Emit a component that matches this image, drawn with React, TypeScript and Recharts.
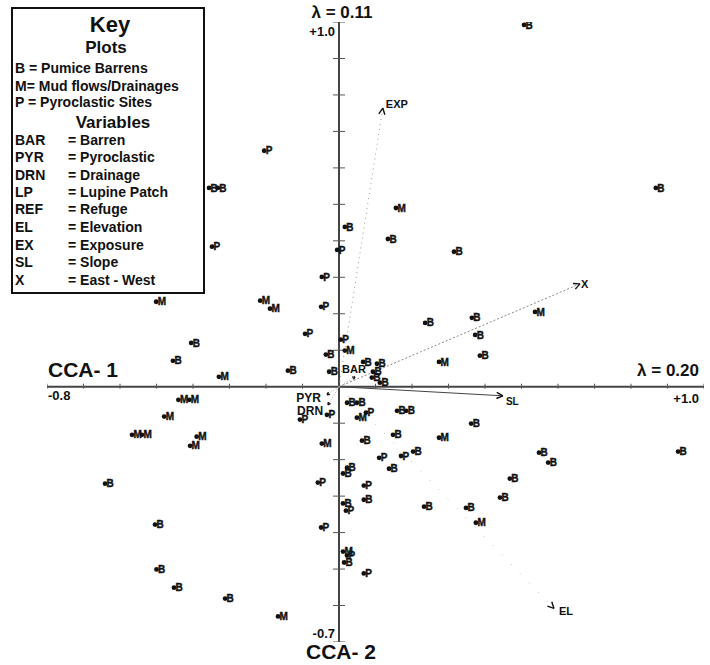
import { ScatterChart, Scatter, XAxis, YAxis, ReferenceLine, ReferenceDot } from 'recharts';

// plot scores (CCA-1, CCA-2)
const barrenX = [0.507, 0.868, -0.356, -0.332, 0.016, 0.134, 0.315, 0.236, 0.364, 0.373, 0.386, -0.036, -0.14, -0.027, 0.066, 0.104, 0.093, 0.09, 0.112, -0.405, -0.455, -0.641, -0.504, -0.5, -0.452, -0.312, 0.022, 0.049, 0.159, 0.184, 0.362, 0.148, 0.063, 0.203, 0.137, 0.022, 0.011, 0.068, 0.011, 0.233, 0.348, 0.014, 0.548, 0.573, 0.929, 0.468, 0.441];
const barrenY = [0.992, 0.545, 0.545, 0.545, 0.438, 0.405, 0.37, 0.175, 0.189, 0.142, 0.085, 0.088, 0.044, 0.041, 0.068, 0.063, 0.041, 0.025, 0.011, 0.12, 0.071, -0.266, -0.378, -0.501, -0.551, -0.581, -0.044, -0.044, -0.066, -0.066, -0.101, -0.132, -0.148, -0.178, -0.225, -0.222, -0.238, -0.31, -0.32, -0.329, -0.332, -0.482, -0.181, -0.208, -0.178, -0.252, -0.304];

const mudX = [0.156, -0.216, -0.189, -0.501, 0.016, 0.274, 0.537, -0.329, -0.44, -0.41, -0.479, -0.567, -0.54, -0.39, -0.408, 0.049, 0.274, -0.047, 0.375, 0.011, -0.167];
const mudY = [0.49, 0.236, 0.214, 0.233, 0.099, 0.068, 0.205, 0.027, -0.036, -0.036, -0.082, -0.132, -0.132, -0.137, -0.162, -0.085, -0.14, -0.156, -0.373, -0.452, -0.63];

const pyroX = [-0.205, -0.348, -0.005, -0.047, -0.049, -0.093, 0.005, -0.033, -0.107, 0.074, 0.11, 0.17, -0.058, 0.068, 0.019, -0.049, 0.022, 0.068];
const pyroY = [0.647, 0.384, 0.375, 0.301, 0.219, 0.145, 0.129, -0.077, -0.09, -0.071, -0.195, -0.19, -0.263, -0.271, -0.34, -0.386, -0.463, -0.512];

// environmental variable arrows
const varNames = ['EXP', 'X', 'SL', 'EL', 'BAR', 'PYR', 'DRN'];
const varX = [0.12, 0.66, 0.449, 0.589, 0.044, -0.033, -0.03];
const varY = [0.764, 0.282, -0.025, -0.608, 0.027, -0.022, -0.05];

const xTicks = [-0.8, -0.7, -0.6, -0.5, -0.4, -0.3, -0.2, -0.1, 0.1, 0.2, 0.3, 0.4, 0.5, 0.6, 0.7, 0.8, 0.9, 1.0];
const yTicks = [-0.7, -0.6, -0.5, -0.4, -0.3, -0.2, -0.1, 0.1, 0.2, 0.3, 0.4, 0.5, 0.6, 0.7, 0.8, 0.9, 1.0];

const FONT = '"Liberation Sans", Arial, sans-serif';
const INK = '#111';

const zip = (xs: number[], ys: number[]) => xs.map((x, i) => ({ x, y: ys[i] }));
const barrens = zip(barrenX, barrenY);
const mudflows = zip(mudX, mudY);
const pyroclastic = zip(pyroX, pyroY);
const vectors = varNames.map((name, i) => ({ name, x: varX[i], y: varY[i] }));
const xTickMarks = xTicks.map(v => ({ x: v, y: 0 }));
const yTickMarks = yTicks.map(v => ({ x: 0, y: v }));

// label placement / line look per variable
const vecStyle: Record<string, { dx: number; dy: number; anchor: string; size: number; head: number; dash: string; color: string; width: number }> = {
  EXP: { dx: 3, dy: 0, anchor: 'start', size: 11, head: 7, dash: '1 4', color: '#999', width: 1 },
  X: { dx: 1, dy: 4, anchor: 'start', size: 11, head: 7, dash: '2 2', color: '#888', width: 1 },
  SL: { dx: 3, dy: 9, anchor: 'start', size: 10, head: 7, dash: '', color: '#444', width: 1 },
  EL: { dx: 5, dy: 7, anchor: 'start', size: 11, head: 7, dash: '1 12', color: '#bbb', width: 1 },
  BAR: { dx: -13, dy: -4, anchor: 'start', size: 11, head: 3, dash: '1 2', color: '#aaa', width: 1 },
  PYR: { dx: -6, dy: 7, anchor: 'end', size: 12, head: 3, dash: '1 2', color: '#aaa', width: 1 },
  DRN: { dx: -5, dy: 10, anchor: 'end', size: 12, head: 3, dash: '1 2', color: '#aaa', width: 1 },
};

const plotSymbol = (letter: string) => (props: any) => {
  const { cx, cy } = props;
  if (cx == null || cy == null) return <g />;
  return (
    <g>
      <circle cx={cx} cy={cy} r={2.4} fill={INK} />
      <text x={cx + 1.5} y={cy + 3.6} fontSize={10} fontWeight="bold" fontFamily={FONT} fill={INK} stroke={INK} strokeWidth={0.4}>{letter}</text>
    </g>
  );
};

const VectorTip = (props: any) => {
  const { cx, cy, payload } = props;
  if (cx == null || cy == null) return <g />;
  const s = vecStyle[payload.name];
  const ang = Math.atan2(-payload.y, payload.x);
  const a1 = ang + Math.PI - 0.45;
  const a2 = ang + Math.PI + 0.45;
  return (
    <g>
      <line x1={cx} y1={cy} x2={cx + s.head * Math.cos(a1)} y2={cy + s.head * Math.sin(a1)} stroke={INK} strokeWidth={1.4} />
      <line x1={cx} y1={cy} x2={cx + s.head * Math.cos(a2)} y2={cy + s.head * Math.sin(a2)} stroke={INK} strokeWidth={1.4} />
      <text x={cx + s.dx} y={cy + s.dy} textAnchor={s.anchor as any} fontSize={s.size} fontWeight="bold" fontFamily={FONT} fill={INK}>{payload.name}</text>
    </g>
  );
};

const hTick = (props: any) => {
  const { cx, cy } = props;
  if (cx == null) return <g />;
  return <line x1={cx} y1={cy - 3} x2={cx} y2={cy + 2} stroke="#555" strokeWidth={1} />;
};

const vTick = (props: any) => {
  const { cx, cy } = props;
  if (cy == null) return <g />;
  return <line x1={cx - 6} y1={cy} x2={cx + 6} y2={cy} stroke="#555" strokeWidth={1} />;
};

const note = (txt: string, dx: number, dy: number, size: number, anchor = 'start') => (props: any) => (
  <text x={props.cx + dx} y={props.cy + dy} textAnchor={anchor as any} fontSize={size} fontWeight="bold" fontFamily={FONT} fill={INK}>{txt}</text>
);

const Key = () => {
  const row = (abbr: string, desc: string, y: number) => (
    <g key={abbr}>
      <text x={15} y={y}>{abbr}</text>
      <text x={68} y={y}>{desc}</text>
    </g>
  );
  return (
    <svg width={710} height={665} style={{ position: 'absolute', left: 0, top: 0, pointerEvents: 'none' }}>
      <rect x={12} y={8} width={192} height={285} fill="#fff" stroke={INK} strokeWidth={2} />
      <g fontFamily={FONT} fontWeight="bold" fill={INK}>
        <text x={110} y={32} fontSize={22} textAnchor="middle">Key</text>
        <text x={106} y={53} fontSize={17} textAnchor="middle">Plots</text>
        <g fontSize={14}>
          <text x={15} y={73}>B = Pumice Barrens</text>
          <text x={15} y={91}>M= Mud flows/Drainages</text>
          <text x={15} y={107}>P = Pyroclastic Sites</text>
        </g>
        <text x={113} y={128} fontSize={17} textAnchor="middle">Variables</text>
        <g fontSize={14}>
          {row('BAR', '= Barren', 145)}
          {row('PYR', '= Pyroclastic', 162)}
          {row('DRN', '= Drainage', 180)}
          {row('LP', '= Lupine Patch', 197)}
          {row('REF', '= Refuge', 214)}
          {row('EL', '= Elevation', 232)}
          {row('EX', '= Exposure', 250)}
          {row('SL', '= Slope', 267)}
          {row('X', '= East - West', 285)}
        </g>
      </g>
    </svg>
  );
};

export default function App() {
  return (
    <div style={{ position: 'absolute', left: 0, top: 0, width: 710, height: 665, background: '#fff' }}>
      <ScatterChart width={710} height={665} margin={{ top: 22, right: 6, bottom: 23, left: 47 }}>
        <XAxis type="number" dataKey="x" domain={[-0.8, 1.0]} allowDataOverflow hide />
        <YAxis type="number" dataKey="y" domain={[-0.7, 1.0]} allowDataOverflow hide />
        <ReferenceLine x={0} stroke="#444" strokeWidth={2} />
        <ReferenceLine y={0} stroke="#444" strokeWidth={2} />
        {vectors.map(v => {
          const s = vecStyle[v.name];
          return (
            <ReferenceLine
              key={v.name}
              segment={[{ x: 0, y: 0 }, { x: v.x, y: v.y }]}
              stroke={s.color}
              strokeWidth={s.width}
              strokeDasharray={s.dash || undefined}
            />
          );
        })}
        <Scatter data={xTickMarks} shape={hTick} fill={INK} isAnimationActive={false} />
        <Scatter data={yTickMarks} shape={vTick} fill={INK} isAnimationActive={false} />
        <ReferenceDot x={-0.8} y={0} shape={note('CCA- 1', 1, -10, 21)} />
        <ReferenceDot x={-0.8} y={0} shape={note('-0.8', 1, 13, 13)} />
        <ReferenceDot x={1.0} y={0} shape={note('λ = 0.20', -5, -11, 17, 'end')} />
        <ReferenceDot x={1.0} y={0} shape={note('+1.0', -5, 16, 13, 'end')} />
        <ReferenceDot x={0} y={1.0} shape={note('λ = 0.11', 3, -4, 17, 'middle')} />
        <ReferenceDot x={0} y={1.0} shape={note('+1.0', -4, 14, 13, 'end')} />
        <ReferenceDot x={0} y={-0.7} shape={note('-0.7', -4, -4, 13, 'end')} />
        <ReferenceDot x={0} y={-0.7} shape={note('CCA- 2', 2, 17, 21, 'middle')} />
        <Scatter data={vectors} shape={VectorTip} fill={INK} isAnimationActive={false} />
        <Scatter data={barrens} shape={plotSymbol('B')} fill={INK} isAnimationActive={false} />
        <Scatter data={mudflows} shape={plotSymbol('M')} fill={INK} isAnimationActive={false} />
        <Scatter data={pyroclastic} shape={plotSymbol('P')} fill={INK} isAnimationActive={false} />
      </ScatterChart>
      <Key />
    </div>
  );
}
